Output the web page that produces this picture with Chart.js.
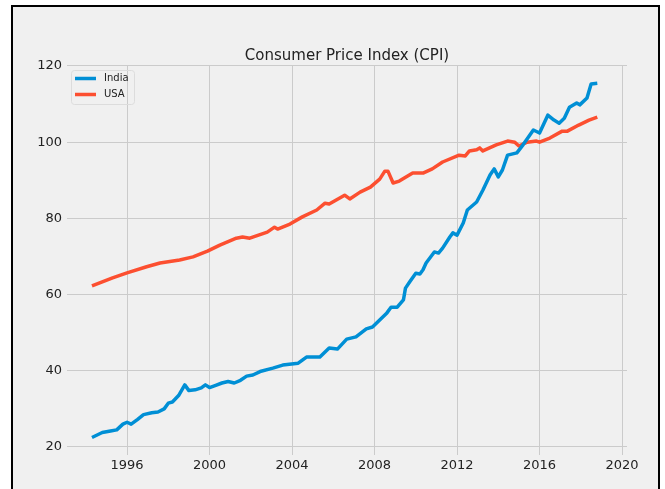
<!DOCTYPE html>
<html>
<head>
<meta charset="utf-8">
<script src="https://cdn.jsdelivr.net/npm/chart.js@4"></script>
<style>
  body { margin: 0; background: #fff; }
  #wrap { position: relative; width: 665px; height: 489px; overflow: hidden; }
  #frame { position: absolute; left: 11px; top: 5px; width: 645px; height: 520px; border: 2px solid #000; background: #f0f0f0; }
  #cpiChart { position: absolute; left: 0; top: 0; }
</style>
</head>
<body>
<div id="wrap">
  <div id="frame"></div>
  <canvas id="cpiChart" width="665" height="489"></canvas>
</div>
<script>
// ข้อมูล CPI อ่านจากกราฟ (ปีแบบทศนิยม)
const indiaYears = [1994.3, 1994.8, 1995.2, 1995.5, 1995.8, 1996.0, 1996.2, 1996.5, 1996.8, 1997.2, 1997.5, 1997.8, 1998.0, 1998.2, 1998.5, 1998.8, 1999.0, 1999.3, 1999.6, 1999.8, 2000.0, 2000.3, 2000.6, 2000.9, 2001.2, 2001.5, 2001.8, 2002.1, 2002.45, 2003.07, 2003.55, 2004.3, 2004.7, 2005.35, 2005.8, 2006.2, 2006.65, 2007.1, 2007.6, 2007.9, 2008.6, 2008.8, 2009.1, 2009.4, 2009.5, 2009.7, 2010.0, 2010.2, 2010.35, 2010.5, 2010.9, 2011.1, 2011.3, 2011.65, 2011.8, 2012.0, 2012.3, 2012.5, 2012.95, 2013.25, 2013.6, 2013.8, 2014.0, 2014.2, 2014.45, 2014.9, 2015.2, 2015.7, 2016.0, 2016.4, 2016.7, 2016.95, 2017.2, 2017.45, 2017.8, 2017.95, 2018.3, 2018.5, 2018.8];
const indiaValues = [22.5, 23.8, 24.2, 24.5, 26.0, 26.5, 26.0, 27.2, 28.5, 29.0, 29.2, 30.0, 31.5, 31.8, 33.5, 36.3, 34.8, 35.0, 35.5, 36.3, 35.6, 36.2, 36.8, 37.2, 36.8, 37.5, 38.6, 38.9, 39.8, 40.7, 41.5, 42.0, 43.6, 43.6, 46.0, 45.7, 48.3, 48.9, 51.0, 51.5, 55.2, 56.7, 56.7, 58.6, 61.7, 63.3, 65.6, 65.4, 66.5, 68.3, 71.2, 70.9, 72.2, 75.1, 76.2, 75.6, 78.8, 82.2, 84.3, 87.4, 91.4, 93.0, 90.9, 92.7, 96.6, 97.2, 99.3, 103.2, 102.4, 107.1, 105.8, 105.0, 106.3, 109.2, 110.3, 109.8, 111.6, 115.3, 115.5];

const usaYears = [1994.3, 1995.3, 1996.0, 1996.95, 1997.6, 1998.55, 1999.2, 1999.9, 2000.5, 2001.3, 2001.6, 2001.95, 2002.8, 2003.15, 2003.3, 2003.9, 2004.5, 2005.2, 2005.6, 2005.8, 2006.55, 2006.8, 2007.3, 2007.8, 2008.25, 2008.5, 2008.65, 2008.9, 2009.2, 2009.85, 2010.35, 2010.8, 2011.3, 2012.1, 2012.4, 2012.6, 2012.95, 2013.1, 2013.25, 2013.9, 2014.45, 2014.8, 2015.0, 2015.4, 2015.85, 2016.0, 2016.5, 2017.1, 2017.35, 2017.9, 2018.4, 2018.8];
const usaValues = [62.3, 64.4, 65.7, 67.3, 68.3, 69.1, 69.9, 71.4, 73.0, 74.8, 75.1, 74.8, 76.4, 77.7, 77.2, 78.5, 80.4, 82.2, 84.0, 83.8, 86.1, 85.1, 86.9, 88.2, 90.3, 92.4, 92.4, 89.3, 89.8, 91.9, 91.9, 93.0, 94.8, 96.6, 96.4, 97.7, 98.0, 98.5, 97.7, 99.3, 100.3, 100.0, 99.0, 100.0, 100.3, 100.0, 101.1, 102.9, 102.9, 104.5, 105.8, 106.6];

const xTicks = [1996, 2000, 2004, 2008, 2012, 2016, 2020];
const yTicks = [20, 40, 60, 80, 100, 120];

const toPoints = (xs, ys) => xs.map((x, i) => ({ x: x, y: ys[i] }));
const tickFont = { family: 'DejaVu Sans', size: 13 };

// วาด legend เองไว้มุมซ้ายบนในพื้นที่กราฟ
const innerLegend = {
    id: 'innerLegend',
    afterDatasetsDraw(chart) {
        const ctx = chart.ctx;
        const area = chart.chartArea;
        const left = area.left + 4, top = area.top + 4.5;
        ctx.save();
        ctx.strokeStyle = '#dcdcdc';
        ctx.lineWidth = 1;
        ctx.beginPath();
        ctx.roundRect(left + 0.5, top + 0.5, 63, 34, 3);
        ctx.stroke();
        ctx.font = '10px "DejaVu Sans"';
        ctx.textBaseline = 'middle';
        chart.data.datasets.forEach((ds, i) => {
            const y = top + 8.5 + i * 16;
            ctx.strokeStyle = ds.borderColor;
            ctx.lineWidth = 3.5;
            ctx.beginPath();
            ctx.moveTo(left + 4, y);
            ctx.lineTo(left + 25, y);
            ctx.stroke();
            ctx.fillStyle = '#222';
            ctx.fillText(ds.label, left + 33, y);
        });
        ctx.restore();
    }
};

new Chart(document.getElementById('cpiChart'), {
    type: 'line',
    data: {
        datasets: [
            { label: 'India', data: toPoints(indiaYears, indiaValues), borderColor: '#008fd5', backgroundColor: '#008fd5' },
            { label: 'USA', data: toPoints(usaYears, usaValues), borderColor: '#fc4f30', backgroundColor: '#fc4f30' }
        ]
    },
    options: {
        responsive: false,
        animation: false,
        layout: { padding: { left: 0, right: 38, top: 0, bottom: 0 } },
        elements: {
            line: { borderWidth: 3.5, tension: 0, borderJoinStyle: 'round', borderCapStyle: 'butt' },
            point: { radius: 0 }
        },
        scales: {
            x: {
                type: 'linear',
                min: 1993.09,
                max: 2020.24,
                afterBuildTicks: s => { s.ticks = xTicks.map(v => ({ value: v })); },
                afterFit: s => { s.height = 34; },
                grid: { color: '#cbcbcb', lineWidth: 1, drawTicks: false },
                border: { display: false },
                ticks: { padding: 3, font: tickFont, color: '#222', callback: v => String(v) }
            },
            y: {
                min: 17.9,
                max: 120.13,
                afterBuildTicks: s => { s.ticks = yTicks.map(v => ({ value: v })); },
                afterFit: s => { s.width = 67; },
                grid: { color: '#cbcbcb', lineWidth: 1, drawTicks: false },
                border: { display: false },
                ticks: { padding: 5, font: tickFont, color: '#222' }
            }
        },
        plugins: {
            title: {
                display: true,
                fullSize: false, // จัดชื่อกราฟให้อยู่กึ่งกลางพื้นที่กราฟ
                text: 'Consumer Price Index (CPI)',
                color: '#222',
                font: { family: 'DejaVu Sans', size: 15, weight: 'normal' },
                padding: { top: 47, bottom: 0.5 }
            },
            legend: { display: false },
            tooltip: { enabled: false }
        }
    },
    plugins: [innerLegend]
});
</script>
</body>
</html>
